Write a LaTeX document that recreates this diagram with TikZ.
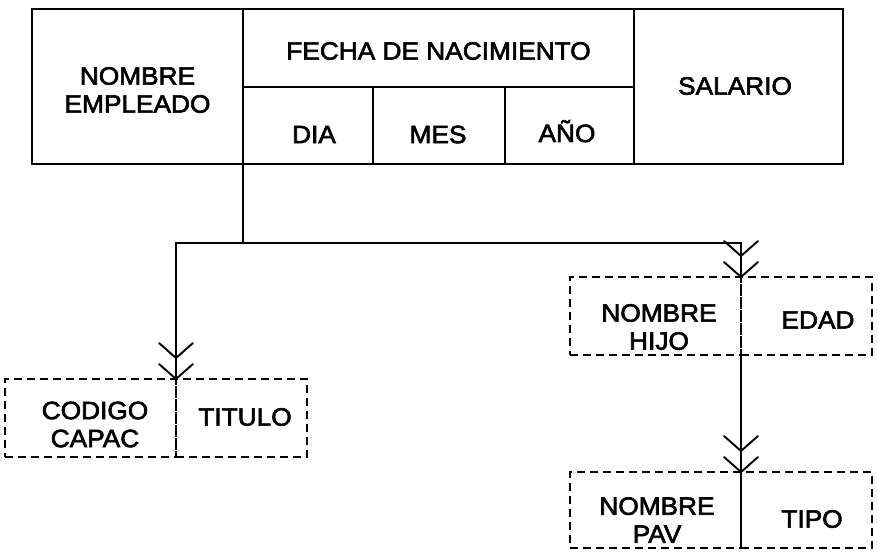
\documentclass[tikz,border=0pt]{standalone}
\usepackage{fontspec}
\setmainfont[FakeStretch=1.05,FakeBold=2.5]{Liberation Sans}
\usetikzlibrary{decorations.markings}
\begin{document}
\begin{tikzpicture}[x=1pt,y=-1pt,
  cell/.style={draw=black,line width=1.9pt,rectangle,inner sep=0pt,outer sep=0pt,anchor=north west},
  dcell/.style={draw=black,line width=1.8pt,dash pattern=on 8pt off 5pt,rectangle,inner sep=0pt,outer sep=0pt,anchor=north west},
  txt/.style={align=center,inner sep=0pt,font=\fontsize{25}{28}\selectfont},
  conn/.style={draw=black,line width=1.9pt},
  chev/.style={line width=1.9pt,solid,line join=round,line cap=round},
  crow/.style={postaction={decorate},decoration={markings,
     mark=at position 1 with {\draw[chev] (-15pt,17pt)--(0pt,0pt)--(-15pt,-17pt);
       \draw[chev] (-36pt,17pt)--(-21pt,0pt)--(-36pt,-17pt);}}}
]
\useasboundingbox[fill=white] (0,0) rectangle (878,553);
% top table
\node[cell,minimum width=211pt,minimum height=155pt] (nombre) at (32,9) {};
\node[cell,minimum width=391pt,minimum height=78pt] (fecha) at (243,9) {};
\node[cell,minimum width=130pt,minimum height=77pt] (dia) at (243,87) {};
\node[cell,minimum width=132pt,minimum height=77pt] (mes) at (373,87) {};
\node[cell,minimum width=129pt,minimum height=77pt] (ano) at (505,87) {};
\node[cell,minimum width=209pt,minimum height=155pt] (salario) at (634,9) {};
\node[txt] (tnombre) at (137.5,90) {NOMBRE\\EMPLEADO};
\node[txt] (tfecha) at (438.5,51) {FECHA DE NACIMIENTO};
\node[txt] (tdia) at (314,134.5) {DIA};
\node[txt] (tmes) at (438,134.5) {MES};
\node[txt,anchor=base] (tano) at (567,142) {AÑO};
\node[txt] (tsal) at (735,86) {SALARIO};
% dashed boxes
\node[dcell,minimum width=171pt,minimum height=78pt] (codL) at (5,379) {};
\node[dcell,minimum width=131pt,minimum height=78pt] (codR) at (176,379) {};
\node[dcell,minimum width=171pt,minimum height=78pt] (hijL) at (570,277) {};
\node[dcell,minimum width=131pt,minimum height=78pt] (hijR) at (741,277) {};
\node[dcell,minimum width=171pt,minimum height=76pt] (pavL) at (570,472) {};
\node[dcell,minimum width=131pt,minimum height=76pt] (pavR) at (741,472) {};
\node[txt] (tcod) at (95,424.5) {CODIGO\\CAPAC};
\node[txt] (ttit) at (245,417) {TITULO};
\node[txt] (thij) at (659,327) {NOMBRE\\HIJO};
\node[txt] (tedad) at (818,320) {EDAD};
\node[txt] (tpav) at (657,520) {NOMBRE\\PAV};
\node[txt] (ttipo) at (812,519) {TIPO};
% connectors
\coordinate (j) at (243,243);
\draw[conn] (nombre.south east) -- (j);
\draw[conn,crow] (j) -| (codL.north east);
\draw[conn,crow] (j) -| (hijL.north east);
\draw[conn,crow] (hijL.south east) -- (pavL.north east);
\end{tikzpicture}
\end{document}
